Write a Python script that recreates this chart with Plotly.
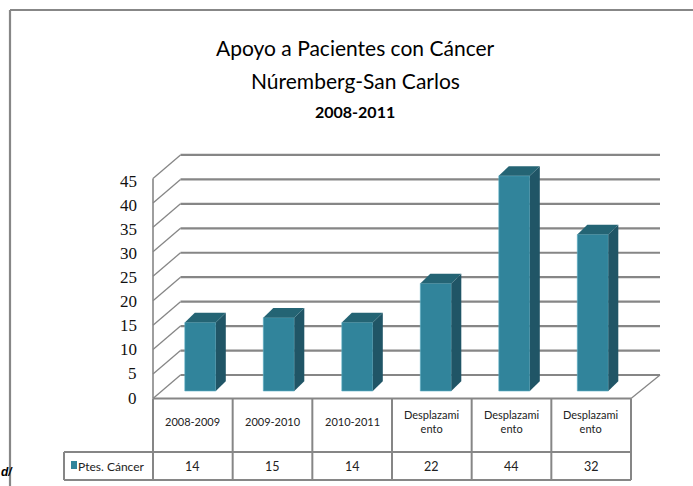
import plotly.graph_objects as go

# ---------------- data ----------------
categories = ["2008-2009", "2009-2010", "2010-2011",
              "Desplazami<br>ento", "Desplazami<br>ento", "Desplazami<br>ento"]
values = [14, 15, 14, 22, 44, 32]
series_name = "Ptes. Cáncer"
y_ticks = [0, 5, 10, 15, 20, 25, 30, 35, 40, 45]
title_lines = ["Apoyo a Pacientes con Cáncer", "Núremberg-San Carlos", "2008-2011"]

# ---------------- geometry (pixel -> data mapping) ----------------
W, H = 693, 486
X0, SX = 200.3, 78.5      # px of category 0 centre, px per category
Y0, SY = 391.0, 4.89      # px of value 0 (bar depth), px per unit


def dx(p):
    return (p - X0) / SX


def dy(p):
    return (Y0 - p) / SY


BAR_W = 31 / SX
DEP_X = 10 / SX
DEP_Y = 9.7 / SY
BACK_DY = (391 - 375) / SY
FRONT_DY = (391 - 398.5) / SY
BACK_X0, BACK_X1 = dx(180.5), dx(660)
FRONT_X0, FRONT_X1 = dx(153), dx(631)
LABEL_STEP = 24.1 / 5 / SY   # tick labels sit slightly tighter than the wall grid

C_FRONT = "#31849B"
C_SIDE = "#205566"
C_TOP = "#246474"
GRID = "#868686"

fig = go.Figure()

xs = list(range(len(values)))
# front faces
fig.add_trace(go.Bar(x=xs, y=values, width=BAR_W, marker=dict(color=C_FRONT, line=dict(width=0.6, color="#5db0c6")),
                     name=series_name, showlegend=False, hoverinfo="skip"))
# side and top faces
for i, v in zip(xs, values):
    r = i + BAR_W / 2
    l = i - BAR_W / 2
    fig.add_trace(go.Scatter(x=[r, r + DEP_X, r + DEP_X, r, r], y=[0, DEP_Y, v + DEP_Y, v, 0],
                             mode="lines", fill="toself", fillcolor=C_SIDE, line=dict(width=0),
                             showlegend=False, hoverinfo="skip"))
    fig.add_trace(go.Scatter(x=[l, l + DEP_X, r + DEP_X, r, l], y=[v, v + DEP_Y, v + DEP_Y, v, v],
                             mode="lines", fill="toself", fillcolor=C_TOP, line=dict(width=0),
                             showlegend=False, hoverinfo="skip"))

shapes = []


def line(x0, y0, x1, y1, w=2, color=GRID, layer="below"):
    shapes.append(dict(type="line", xref="x", yref="y", x0=x0, y0=y0, x1=x1, y1=y1,
                       line=dict(color=color, width=w), layer=layer))


# back wall gridlines and left-wall diagonals
for k in y_ticks:
    line(BACK_X0, k + BACK_DY, BACK_X1, k + BACK_DY, 2.2)
    line(FRONT_X0, k + FRONT_DY, BACK_X0, k + BACK_DY, 1.3)
# front-left vertical edge of side wall
line(FRONT_X0, FRONT_DY, FRONT_X0, max(y_ticks) + FRONT_DY, 1.6)
# floor right diagonal
line(FRONT_X1, FRONT_DY, BACK_X1, BACK_DY, 1.3)

# data table
ncol = len(categories)
col_edges = [153 + (631 - 153) * j / ncol for j in range(ncol + 1)]
line(dx(153), dy(398.5), dx(631), dy(398.5), 2)
line(dx(64), dy(452), dx(631), dy(452), 2)
line(dx(64), dy(480), dx(631), dy(480), 2)
line(dx(64), dy(452), dx(64), dy(480), 2)
for e in col_edges:
    line(dx(e), dy(398.5), dx(e), dy(480), 2)

# legend key
shapes.append(dict(type="rect", xref="x", yref="y", x0=dx(71), x1=dx(77), y0=dy(469), y1=dy(461),
                   fillcolor=C_FRONT, line=dict(width=0)))

# chart border
line(dx(10), dy(10), dx(720), dy(10), 2.2, "#878787")
line(dx(10), dy(10), dx(10), dy(520), 2.2, "#878787")

annotations = []
TFONT = "Lato, 'Open Sans', sans-serif"
for k in y_ticks:
    annotations.append(dict(x=dx(139), y=dy(398) + k * LABEL_STEP, xref="x", yref="y", text=str(k), showarrow=False,
                            xanchor="right", yanchor="middle",
                            font=dict(family="'Liberation Serif', 'DejaVu Serif', serif", size=17, color="#111")))
for j, c in enumerate(categories):
    cx = (col_edges[j] + col_edges[j + 1]) / 2
    annotations.append(dict(x=dx(cx), y=dy(421), xref="x", yref="y", text=c, showarrow=False,
                            xanchor="center", yanchor="middle",
                            font=dict(family=TFONT, size=11, color="#222")))
    annotations.append(dict(x=dx(cx), y=dy(466), xref="x", yref="y", text=str(values[j]), showarrow=False,
                            xanchor="center", yanchor="middle",
                            font=dict(family=TFONT, size=12.5, color="#222")))
annotations.append(dict(x=dx(76), y=dy(466), xref="x", yref="y", text=series_name, showarrow=False,
                        xanchor="left", yanchor="middle", font=dict(family=TFONT, size=12, color="#222")))

annotations.append(dict(x=dx(355), y=dy(47), xref="x", yref="y", text=title_lines[0], showarrow=False,
                        xanchor="center", yanchor="middle", font=dict(family=TFONT, size=21, color="#000")))
annotations.append(dict(x=dx(355), y=dy(80), xref="x", yref="y", text=title_lines[1], showarrow=False,
                        xanchor="center", yanchor="middle", font=dict(family=TFONT, size=21, color="#000")))
annotations.append(dict(x=dx(355), y=dy(111), xref="x", yref="y", text="<b>" + title_lines[2] + "</b>",
                        showarrow=False, xanchor="center", yanchor="middle",
                        font=dict(family=TFONT, size=16, color="#000")))
annotations.append(dict(x=dx(0), y=dy(472), xref="x", yref="y", text="<b><i>d/</i></b>", showarrow=False,
                        xanchor="left", yanchor="middle", borderpad=0,
                        font=dict(family="Liberation Sans", size=12, color="#000")))

fig.update_layout(
    width=W, height=H, autosize=False,
    margin=dict(l=0, r=0, t=0, b=0),
    paper_bgcolor="white", plot_bgcolor="white",
    xaxis=dict(range=[dx(0), dx(W)], visible=False, fixedrange=True),
    yaxis=dict(range=[dy(H), dy(0)], visible=False, fixedrange=True),
    shapes=shapes, annotations=annotations, showlegend=False,
)

fig.write_html("out.html", config={"displayModeBar": False},
               post_script="document.body.style.margin='0';document.body.style.overflow='hidden';")
